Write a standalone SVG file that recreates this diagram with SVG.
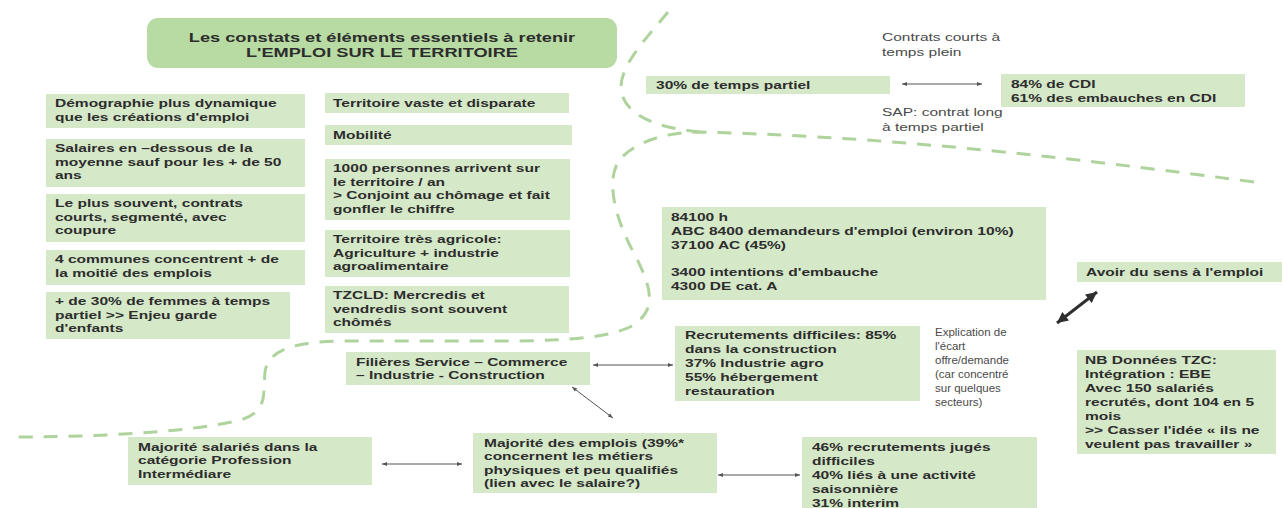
<svg xmlns="http://www.w3.org/2000/svg" width="1282" height="508" viewBox="0 0 1282 508">
  <defs>
    <style>
      .box { fill: #d5e8c8; }
      .head { fill: #b7dba3; }
      .t { font-family: "Liberation Sans", Arial, sans-serif; font-size: 11.5px; font-weight: bold; fill: #2d2d2d; }
      .wide { transform: scaleX(1.35); transform-box: fill-box; transform-origin: left center; }
      .wide-c { transform: scaleX(1.35); transform-box: fill-box; transform-origin: center; }
      .note { font-weight: normal; fill: #4a4a4a; }
      .ttl { font-size: 13.5px; }
      .dash { fill: none; stroke: #afd39d; stroke-width: 3; stroke-dasharray: 14 11; }
      .link { fill: none; stroke: #555; stroke-width: 1; }
      .bold-link { fill: none; stroke: #2f2f2f; stroke-width: 3; }
    </style>
    <marker id="tip" viewBox="0 0 10 10" refX="10" refY="5" markerWidth="6" markerHeight="5" orient="auto-start-reverse">
      <path d="M0,1 L10,5 L0,9 Z" fill="#555"/>
    </marker>
    <marker id="tip-big" viewBox="0 0 10 10" refX="10" refY="5" markerUnits="userSpaceOnUse" markerWidth="12" markerHeight="11" orient="auto-start-reverse">
      <path d="M0,0 L10,5 L0,10 Z" fill="#2f2f2f"/>
    </marker>
  </defs>

  <!-- dashed zone separators -->
  <g id="separators">
    <path class="dash" d="M668 12 C645 40, 615 70, 622 95 C630 118, 660 128, 700 132"/>
    <path class="dash" d="M1254 182 C1000 148, 850 136, 700 132 C660 132, 630 145, 618 162 C605 185, 618 225, 635 255 C650 285, 660 310, 630 327 C605 338, 570 340, 520 341 L345 341 C300 341, 268 348, 265 372 C263 395, 268 412, 240 420 C200 430, 120 437, 10 437"/>
  </g>

  <!-- title -->
  <g id="title">
    <rect class="head" x="147" y="18" width="470" height="50" rx="11"/>
    <text class="t ttl wide-c" x="382" y="42" text-anchor="middle">Les constats et éléments essentiels à retenir</text>
    <text class="t ttl wide-c" x="382" y="57" text-anchor="middle">L'EMPLOI SUR LE TERRITOIRE</text>
  </g>

  <!-- left column -->
  <g id="demographie">
    <rect class="box" x="46" y="94" width="259" height="34"/>
    <text class="t wide" x="55" y="107.5"><tspan x="55">Démographie plus dynamique</tspan><tspan x="55" dy="13.5">que les créations d'emploi</tspan></text>
  </g>
  <g id="salaires">
    <rect class="box" x="46" y="139" width="259" height="48"/>
    <text class="t wide" x="55" y="152.5"><tspan x="55">Salaires en –dessous de la</tspan><tspan x="55" dy="13.5">moyenne sauf pour les + de 50</tspan><tspan x="55" dy="13.5">ans</tspan></text>
  </g>
  <g id="contrats">
    <rect class="box" x="46" y="194" width="259" height="48"/>
    <text class="t wide" x="55" y="207.5"><tspan x="55">Le plus souvent, contrats</tspan><tspan x="55" dy="13.5">courts, segmenté, avec</tspan><tspan x="55" dy="13.5">coupure</tspan></text>
  </g>
  <g id="communes">
    <rect class="box" x="46" y="250" width="259" height="35"/>
    <text class="t wide" x="55" y="263.5"><tspan x="55">4 communes concentrent + de</tspan><tspan x="55" dy="13.5">la moitié des emplois</tspan></text>
  </g>
  <g id="femmes">
    <rect class="box" x="46" y="292" width="244" height="47"/>
    <text class="t wide" x="55" y="305.5"><tspan x="55">+ de 30% de femmes à temps</tspan><tspan x="55" dy="13.5">partiel &gt;&gt; Enjeu garde</tspan><tspan x="55" dy="13.5">d'enfants</tspan></text>
  </g>

  <!-- middle column -->
  <g id="territoire">
    <rect class="box" x="325" y="93" width="244" height="20"/>
    <text class="t wide" x="333" y="107">Territoire vaste et disparate</text>
  </g>
  <g id="mobilite">
    <rect class="box" x="325" y="125" width="247" height="20"/>
    <text class="t wide" x="333" y="139">Mobilité</text>
  </g>
  <g id="arrivees">
    <rect class="box" x="325" y="159" width="245" height="61"/>
    <text class="t wide" x="333" y="172.5"><tspan x="333">1000 personnes arrivent sur</tspan><tspan x="333" dy="13.5">le territoire / an</tspan><tspan x="333" dy="13.5">&gt; Conjoint au chômage et fait</tspan><tspan x="333" dy="13.5">gonfler le chiffre</tspan></text>
  </g>
  <g id="agricole">
    <rect class="box" x="325" y="230" width="245" height="47"/>
    <text class="t wide" x="333" y="243.5"><tspan x="333">Territoire très agricole:</tspan><tspan x="333" dy="13.5">Agriculture + industrie</tspan><tspan x="333" dy="13.5">agroalimentaire</tspan></text>
  </g>
  <g id="tzcld">
    <rect class="box" x="325" y="286" width="244" height="47"/>
    <text class="t wide" x="333" y="299.5"><tspan x="333">TZCLD: Mercredis et</tspan><tspan x="333" dy="13.5">vendredis sont souvent</tspan><tspan x="333" dy="13.5">chômés</tspan></text>
  </g>

  <!-- contracts -->
  <g id="temps-partiel">
    <rect class="box" x="646" y="76" width="244" height="18"/>
    <text class="t wide" x="656" y="89">30% de temps partiel</text>
  </g>
  <g id="cdi">
    <rect class="box" x="1001" y="74" width="244" height="33"/>
    <text class="t wide" x="1011" y="88"><tspan x="1011">84% de CDI</tspan><tspan x="1011" dy="14">61% des embauches en CDI</tspan></text>
  </g>
  <g id="note-courts">
    <text class="t note wide" x="882" y="41"><tspan x="882">Contrats courts à</tspan><tspan x="882" dy="15">temps plein</tspan></text>
  </g>
  <g id="note-sap">
    <text class="t note wide" x="882" y="116"><tspan x="882">SAP: contrat long</tspan><tspan x="882" dy="15">à temps partiel</tspan></text>
  </g>

  <!-- figures -->
  <g id="chiffres">
    <rect class="box" x="662" y="207" width="384" height="93"/>
    <text class="t wide" x="671" y="221"><tspan x="671">84100 h</tspan><tspan x="671" dy="13.8">ABC 8400 demandeurs d'emploi (environ 10%)</tspan><tspan x="671" dy="13.8">37100 AC (45%)</tspan><tspan x="671" dy="27.6">3400 intentions d'embauche</tspan><tspan x="671" dy="13.8">4300 DE cat. A</tspan></text>
  </g>
  <g id="sens">
    <rect class="box" x="1077" y="262" width="205" height="20"/>
    <text class="t wide" x="1086" y="276">Avoir du sens à l'emploi</text>
  </g>
  <g id="recrutements">
    <rect class="box" x="675" y="326" width="245" height="75"/>
    <text class="t wide" x="685" y="339"><tspan x="685">Recrutements difficiles: 85%</tspan><tspan x="685" dy="14">dans la construction</tspan><tspan x="685" dy="14">37% Industrie agro</tspan><tspan x="685" dy="14">55% hébergement</tspan><tspan x="685" dy="14">restauration</tspan></text>
  </g>
  <g id="note-ecart">
    <text class="t note" x="935" y="336"><tspan x="935">Explication de</tspan><tspan x="935" dy="14">l'écart</tspan><tspan x="935" dy="14">offre/demande</tspan><tspan x="935" dy="14">(car concentré</tspan><tspan x="935" dy="14">sur quelques</tspan><tspan x="935" dy="14">secteurs)</tspan></text>
  </g>
  <g id="tzc">
    <rect class="box" x="1077" y="350" width="199" height="104"/>
    <text class="t wide" x="1085" y="364"><tspan x="1085">NB Données TZC:</tspan><tspan x="1085" dy="14">Intégration : EBE</tspan><tspan x="1085" dy="14">Avec 150 salariés</tspan><tspan x="1085" dy="14">recrutés, dont 104 en 5</tspan><tspan x="1085" dy="14">mois</tspan><tspan x="1085" dy="14">&gt;&gt; Casser l'idée « ils ne</tspan><tspan x="1085" dy="14">veulent pas travailler »</tspan></text>
  </g>
  <g id="filieres">
    <rect class="box" x="346" y="352" width="244" height="33"/>
    <text class="t wide" x="356" y="366"><tspan x="356">Filières Service – Commerce</tspan><tspan x="356" dy="13.5">– Industrie - Construction</tspan></text>
  </g>
  <g id="metiers">
    <rect class="box" x="473" y="433" width="244" height="60"/>
    <text class="t wide" x="484" y="447"><tspan x="484">Majorité des emplois (39%*</tspan><tspan x="484" dy="13.5">concernent les métiers</tspan><tspan x="484" dy="13.5">physiques et peu qualifiés</tspan><tspan x="484" dy="13.5">(lien avec le salaire?)</tspan></text>
  </g>
  <g id="profession">
    <rect class="box" x="128" y="437" width="244" height="48"/>
    <text class="t wide" x="138" y="451"><tspan x="138">Majorité salariés dans la</tspan><tspan x="138" dy="13.5">catégorie Profession</tspan><tspan x="138" dy="13.5">Intermédiare</tspan></text>
  </g>
  <g id="saisonniers">
    <rect class="box" x="802" y="437" width="235" height="75"/>
    <text class="t wide" x="812" y="451"><tspan x="812">46% recrutements jugés</tspan><tspan x="812" dy="14">difficiles</tspan><tspan x="812" dy="14">40% liés à une activité</tspan><tspan x="812" dy="14">saisonnière</tspan><tspan x="812" dy="14">31% interim</tspan></text>
  </g>

  <!-- connectors -->
  <g id="connectors">
    <line class="link" x1="902" y1="84" x2="982" y2="84" marker-start="url(#tip)" marker-end="url(#tip)"/>
    <line class="link" x1="593" y1="365" x2="673" y2="365" marker-start="url(#tip)" marker-end="url(#tip)"/>
    <line class="link" x1="572" y1="387" x2="613" y2="418" marker-start="url(#tip)" marker-end="url(#tip)"/>
    <line class="link" x1="382" y1="464" x2="462" y2="464" marker-start="url(#tip)" marker-end="url(#tip)"/>
    <line class="link" x1="718" y1="475" x2="800" y2="475" marker-start="url(#tip)" marker-end="url(#tip)"/>
    <line class="bold-link" x1="1057" y1="323" x2="1097" y2="292" marker-start="url(#tip-big)" marker-end="url(#tip-big)"/>
  </g>
</svg>
